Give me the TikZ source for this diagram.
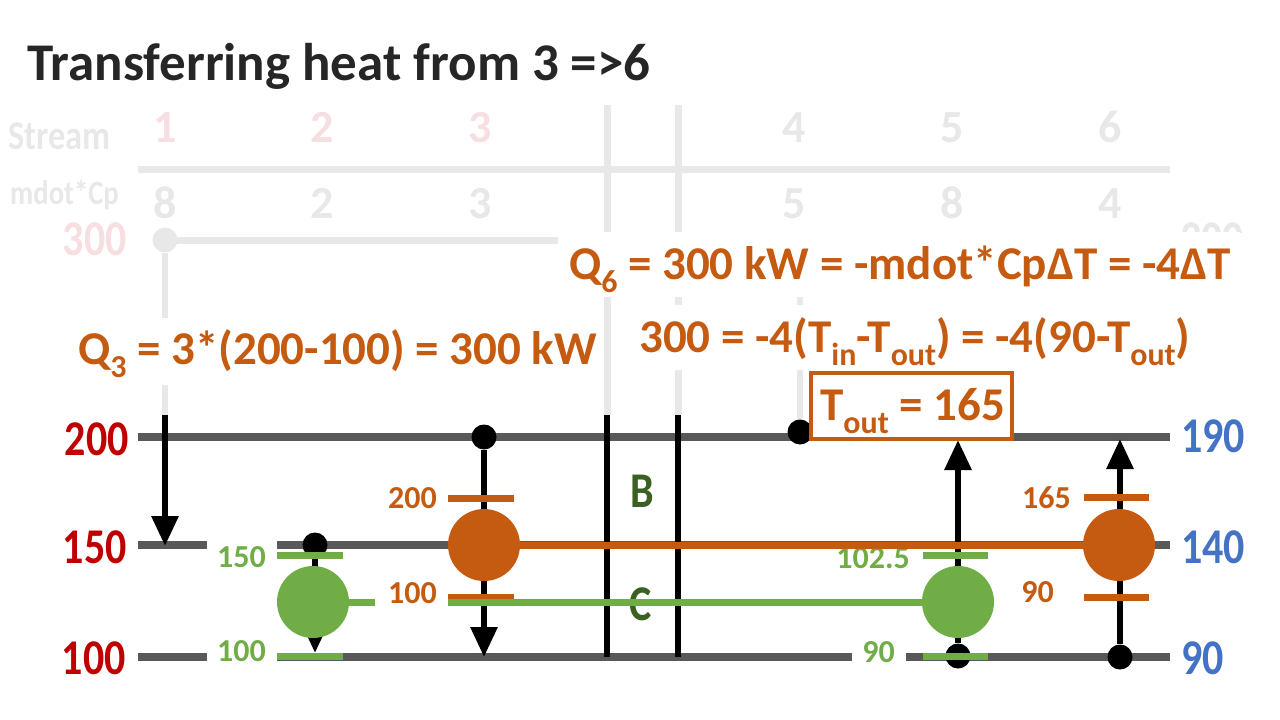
\documentclass[tikz,border=0pt]{standalone}
\usepackage{fontspec}
\setmainfont{Carlito}
\newfontfamily\narrowf{Carlito}[FakeStretch=0.84]
\usetikzlibrary{arrows.meta}
\definecolor{hotc}{HTML}{C55A11}
\definecolor{coldc}{HTML}{70AD47}
\definecolor{redc}{HTML}{C00000}
\definecolor{bluec}{HTML}{4472C4}
\definecolor{letc}{HTML}{3B6024}
\definecolor{railc}{HTML}{595959}
\definecolor{ghostc}{HTML}{E8E8E8}
\definecolor{pinkc}{HTML}{F7DEE1}
\definecolor{titlec}{HTML}{262626}
\newcommand\lo[1]{\raisebox{-.28em}{\scalebox{.68}{#1}}}
\newcommand\fsz[1]{\fontsize{#1}{#1}\selectfont\bfseries}
\newcommand\nsz[1]{\narrowf\fontsize{#1}{#1}\selectfont\bfseries}

\begin{document}
\begin{tikzpicture}[x=1pt,y=-1pt,
		ghost/.style={draw=ghostc,line width=7},
		faint/.style={text=ghostc,font=\fsz{46},anchor=base,inner sep=0pt},
		eqn/.style={text=hotc,font=\fsz{47},inner sep=0pt,anchor=base west},
		rail/.style={draw=railc,line width=8},
		bigT/.style={font=\nsz{50},inner sep=0pt},
		smallT/.style={font=\fsz{32},anchor=east,inner sep=0pt},
		flow/.style={line width=6,-{Triangle[width=26pt,length=30pt]}},
		bead/.style={circle,fill=black,minimum size=25pt,inner sep=0pt},
		hx/.style={circle,minimum size=72pt,inner sep=0pt},
		tk/.style={line width=7,draw=#1},
		pipe/.style={line width=7,draw=#1}]
	\useasboundingbox (0,0) rectangle (1280,720);
	\node[font=\fsz{53},text=titlec,anchor=base west,inner sep=0pt] (title) at (27,80) {Transferring heat from 3 =>6};
	\node[faint,font=\nsz{41},anchor=base west] (stream) at (8,149) {Stream};
	\node[faint,font=\nsz{34},anchor=base west] (mdot) at (10,204) {mdot*Cp};
	\node[faint,text=pinkc] (n1) at (165,142) {1};
	\node[faint,text=pinkc] (n2) at (322,142) {2};
	\node[faint,text=pinkc] (n3) at (480,142) {3};
	\node[faint] (n4) at (794,142) {4};
	\node[faint] (n5) at (952,142) {5};
	\node[faint] (n6) at (1110,142) {6};
	\node[faint] (m1) at (165,218) {8};
	\node[faint] (m2) at (322,218) {2};
	\node[faint] (m3) at (480,218) {3};
	\node[faint] (m4) at (794,218) {5};
	\node[faint] (m5) at (952,218) {8};
	\node[faint] (m6) at (1110,218) {4};
	\draw[ghost] (138,169) -- (1170,169);
	\draw[ghost] (607,105) -- (607,415);
	\draw[ghost] (678,105) -- (678,415);
	\draw[ghost] (165,240) -- (558,240);
	\node[circle,fill=ghostc,minimum size=25pt,inner sep=0pt] (g1) at (165,240) {};
	\draw[ghost,line width=6] (g1) -- (165,415);
	\draw[ghost,line width=6] (800,250) -- (800,420);
	\node[faint,text=pinkc,font=\nsz{50},anchor=base east] (g300) at (127,255) {300};
	\begin{scope}
		\clip (1150,200) rectangle (1260,232);
		\node[faint,font=\nsz{50}] (g300r) at (1212,255) {300};
	\end{scope}
	\fill[white] (565,232) rectangle (1240,297);
	\fill[white] (615,305) rectangle (1190,370);
	\fill[white] (70,318) rectangle (603,385);
	\node[eqn] (q6) at (569,279) {Q\lo{6} = 300 kW = -mdot*CpΔT = -4ΔT};
	\node[eqn] (tq) at (639,352) {300 = -4(T\lo{in}-T\lo{out}) = -4(90-T\lo{out})};
	\node[eqn] (q3) at (78,364) {Q\lo{3} = 3*(200-100) = 300 kW};
	\draw[rail] (138,437) -- (1170,437);
	\draw[rail] (138,545) -- (207,545) (277,545) -- (1170,545);
	\draw[rail] (138,657) -- (207,657) (277,657) -- (852,657) (906,657) -- (1170,657);
	\node[bigT,text=redc,anchor=east] (t200) at (129,439) {200};
	\node[bigT,text=redc,anchor=east] (t150) at (127,547) {150};
	\node[bigT,text=redc,anchor=east] (t100) at (126,658) {100};
	\node[bigT,text=bluec,anchor=west] (t190) at (1181,436) {190};
	\node[bigT,text=bluec,anchor=west] (t140) at (1181,547) {140};
	\node[bigT,text=bluec,anchor=west] (t90) at (1181,658) {90};
	\draw[line width=6] (607,415) -- (607,657);
	\draw[line width=6] (678,415) -- (678,657);
	\node[bigT,text=letc] (B) at (642,491) {B};
	\node[bigT,text=letc] (C) at (641,604) {C};
	\coordinate (s1) at (165,415);
	\coordinate (s1e) at (165,546);
	\draw[flow] (s1) -- (s1e);
	\node[bead] (s2) at (315,545) {};
	\coordinate (s2e) at (315,653);
	\draw[flow] (s2) -- (s2e);
	\node[bead] (s3) at (484,437) {};
	\coordinate (s3e) at (484,657);
	\draw[flow] (s3) -- (s3e);
	\node[bead] (s4) at (800,432) {};
	\node[bead] (s5) at (958,656) {};
	\coordinate (s5e) at (958,440);
	\draw[flow] (s5) -- (s5e);
	\node[bead] (s6) at (1120,657) {};
	\coordinate (s6e) at (1120,439);
	\draw[flow] (s6) -- (s6e);
	\draw[tk=hotc] (448,498) -- (514,498);
	\draw[tk=hotc] (448,597) -- (514,597);
	\draw[tk=coldc] (277,555) -- (343,555);
	\draw[tk=coldc] (277,656) -- (343,656);
	\draw[tk=coldc] (923,555) -- (988,555);
	\draw[tk=coldc] (923,656) -- (988,656);
	\draw[tk=hotc] (1084,497) -- (1149,497);
	\draw[tk=hotc] (1084,597) -- (1149,597);
	\node[smallT,text=hotc] (a200) at (437,498) {200};
	\node[smallT,text=hotc] (a100) at (437,593) {100};
	\node[smallT,text=coldc] (b150) at (266,557) {150};
	\node[smallT,text=coldc] (b100) at (266,651) {100};
	\node[smallT,text=coldc,fill=white,inner sep=1pt] (e102) at (911,558) {102.5};
	\node[smallT,text=coldc] (e90) at (895,652) {90};
	\node[smallT,text=hotc] (f165) at (1071,498) {165};
	\node[smallT,text=hotc] (f90) at (1054,592) {90};
	\node[hx,fill=hotc] (h3) at (484,545) {};
	\node[hx,fill=hotc] (h6) at (1119,545) {};
	\node[hx,fill=coldc] (c2) at (313,602) {};
	\node[hx,fill=coldc] (c5) at (958,602) {};
	\draw[pipe=hotc] (h3) -- (h6);
	\coordinate (cin) at (448,602);
	\draw[pipe=coldc] (cin) -- (c5);
	\coordinate (cstub) at (375,602);
	\draw[pipe=coldc] (c2) -- (cstub);
	\draw[draw=hotc,line width=3.5,fill=white] (811,373) rectangle (1012,439);
	\node[eqn] (tout) at (820,420) {T\lo{out} = 165};
\end{tikzpicture}
\end{document}
